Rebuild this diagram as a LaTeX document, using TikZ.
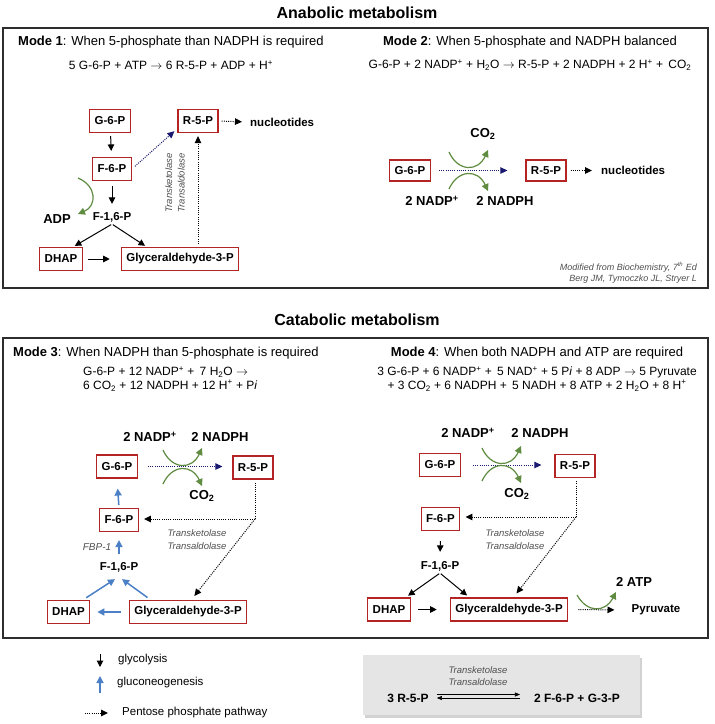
\documentclass[tikz,border=0pt]{standalone}
\usepackage{fontspec}
\setmainfont{Liberation Sans}
\usetikzlibrary{arrows.meta,calc,shadows}
\definecolor{boxred}{RGB}{180,36,36}
\definecolor{navyc}{RGB}{25,25,112}
\definecolor{leaf}{RGB}{95,140,65}
\definecolor{gblue}{RGB}{75,128,198}
\definecolor{enzc}{RGB}{80,80,80}
\definecolor{panel}{RGB}{229,229,229}
\definecolor{framec}{RGB}{45,45,45}
\newcommand{\myfs}[2]{\fontsize{#1}{#2}\selectfont}
\newcommand{\rarr}{$\rightarrow$}
\tikzset{
 mbox/.style={draw=boxred, line width=1.2pt, fill=white, font=\myfs{11.5}{13}\bfseries, inner xsep=5pt, inner ysep=0pt, minimum height=23pt},
 lbl/.style={font=\myfs{11.5}{13}\bfseries, inner sep=2pt},
 biglbl/.style={font=\myfs{13}{15}\bfseries, inner sep=2pt},
 enz/.style={font=\myfs{9.5}{12.5}\itshape, text=enzc, align=center, inner sep=1pt},
 eqn/.style={font=\myfs{12}{13.5}, inner sep=1pt},
 mtitle/.style={font=\myfs{13}{15}, inner sep=1pt},
 legtxt/.style={font=\myfs{11.5}{13}, inner sep=1pt, anchor=west},
 blk/.style={line width=1pt, -{Triangle[length=6.5pt,width=6.5pt]}},
 ppp/.style={dash pattern=on 1pt off 1.2pt, line width=1pt, -{Triangle[length=7pt,width=6.5pt]}},
 pppline/.style={dash pattern=on 1pt off 1.2pt, line width=1pt},
 pppnavy/.style={ppp, draw=navyc, color=navyc},
 grn/.style={draw=leaf, color=leaf, line width=1.2pt, -{Triangle[length=7pt,width=7pt]}},
 blu/.style={draw=gblue, color=gblue, line width=1.5pt, -{Triangle[length=7pt,width=7pt]}},
 frame/.style={draw=framec, line width=1.6pt},
}
\begin{document}
\begin{tikzpicture}[x=1pt,y=-1pt]
\useasboundingbox (0,0) rectangle (715,724);
\fill[white] (0,0) rectangle (715,724);

% ================= ANABOLIC =================
\node[font=\myfs{16}{18}\bfseries] (tana) at (357,13) {Anabolic metabolism};
\draw[frame] (3,28) rectangle (708,288);

% Mode 1
\node[mtitle, anchor=west] (m1t) at (17,42) {\textbf{Mode 1}: When 5-phosphate than NADPH is required};
\node[eqn] (m1e) at (171,65) {5 G-6-P + ATP \rarr{} 6 R-5-P + ADP + H\textsuperscript{+}};
\node[mbox] (m1g6p) at (110,121) {G-6-P};
\node[mbox] (m1r5p) at (198,121) {R-5-P};
\node[lbl, anchor=west] (m1nuc) at (248,122) {nucleotides};
\node[mbox] (m1f6p) at (112,169) {F-6-P};
\node[lbl] (m1f16) at (112,217) {F-1,6-P};
\node[biglbl] (m1adp) at (57,219) {ADP};
\node[mbox] (m1dhap) at (61,259) {DHAP};
\node[mbox] (m1gly) at (180,259) {Glyceraldehyde-3-P};
\node[enz, rotate=90] (m1enz) at (175,183) {Transketolase\\Transaldolase};

\draw[blk, shorten <=3pt, shorten >=6pt] (m1g6p) -- (m1f6p);
\draw[blk, shorten <=5pt, shorten >=6pt] (m1f6p) -- (m1f16);
\draw[blk, shorten <=1pt, shorten >=2pt] (m1f16.south) -- (m1dhap.45);
\draw[blk, shorten <=1pt, shorten >=2pt] (m1f16.south) -- (m1gly.160);
\draw[blk, shorten <=5pt, shorten >=11pt] (m1dhap.east) -- (m1gly.west);
\draw[ppp, shorten <=3pt, shorten >=3pt] (m1gly.north -| m1r5p) -- (m1r5p.south);
\draw[pppnavy, shorten <=4pt, shorten >=4pt] (m1f6p.east) -- (m1r5p.200);
\draw[ppp, shorten <=3pt, shorten >=6pt] (m1r5p.east) -- (m1nuc.west);
\draw[grn] (78,178) .. controls (97,186) and (97,206) .. (78,214);

% Mode 2
\node[mtitle] (m2t) at (530,42) {\textbf{Mode 2}: When 5-phosphate and NADPH balanced};
\node[eqn] (m2e) at (530,65) {G-6-P + 2 NADP\textsuperscript{+} + H\textsubscript{2}O \rarr{} R-5-P + 2 NADPH + 2 H\textsuperscript{+} +\, CO\textsubscript{2}};
\node[biglbl] (m2co2) at (483,134) {CO\textsubscript{2}};
\node[mbox, minimum height=21pt] (m2g6p) at (410,170.5) {G-6-P};
\node[mbox, minimum height=21pt] (m2r5p) at (546,170.5) {R-5-P};
\node[lbl, anchor=west] (m2nuc) at (599,170.5) {nucleotides};
\node[biglbl] (m2nadp) at (432,201) {2 NADP\textsuperscript{+}};
\node[biglbl] (m2nadph) at (505,201) {2 NADPH};
\draw[pppnavy, shorten <=8pt, shorten >=18pt] (m2g6p.east) -- (m2r5p.west);
\draw[ppp, shorten <=4pt, shorten >=7pt] (m2r5p.east) -- (m2nuc.west);
\draw[grn] (449,152) .. controls (458,172) and (478,172) .. (488,150);
\draw[grn] (449,189) .. controls (458,169) and (478,169) .. (488,191);
\node[font=\myfs{9}{11}\itshape, text=enzc, align=right, anchor=east, inner sep=0pt] (cred) at (697,272.5) {Modified from Biochemistry, 7\textsuperscript{th} Ed\\Berg JM, Tymoczko JL, Stryer L};

% ================= CATABOLIC =================
\node[font=\myfs{16}{18}\bfseries] (tcat) at (357,320) {Catabolic metabolism};
\draw[frame] (3,338) rectangle (708,638);

% Mode 3
\node[mtitle, anchor=west] (m3t) at (12,353) {\textbf{Mode 3}: When NADPH than 5-phosphate is required};
\node[eqn, align=left, anchor=west] (m3e) at (82,379) {G-6-P + 12 NADP\textsuperscript{+} +\, 7 H\textsubscript{2}O \rarr\\6 CO\textsubscript{2} + 12 NADPH + 12 H\textsuperscript{+} + P\textit{i}};
\node[biglbl] (m3nadp) at (150,437) {2 NADP\textsuperscript{+}};
\node[biglbl] (m3nadph) at (220,437) {2 NADPH};
\node[mbox] (m3g6p) at (117,466.5) {G-6-P};
\node[mbox] (m3r5p) at (253,467.5) {R-5-P};
\node[biglbl] (m3co2) at (202,496) {CO\textsubscript{2}};
\node[mbox] (m3f6p) at (119,520) {F-6-P};
\node[enz] (m3enz) at (197,539.5) {Transketolase\\Transaldolase};
\node[font=\myfs{10}{12}\itshape, text=enzc, inner sep=1pt] (m3fbp) at (97,547) {FBP-1};
\node[lbl] (m3f16) at (119,567) {F-1,6-P};
\node[mbox] (m3dhap) at (68.5,612) {DHAP};
\node[mbox] (m3gly) at (188,612) {Glyceraldehyde-3-P};
\coordinate (m3c) at (255,519);

\draw[pppnavy, shorten <=10pt, shorten >=10pt] (m3g6p.east) -- (m3g6p.east -| m3r5p.west);
\draw[grn] (163,450) .. controls (172,470) and (192,470) .. (202,448);
\draw[grn] (163,484) .. controls (172,464) and (192,464) .. (202,486);
\draw[pppline, shorten <=3pt] (m3r5p.south -| m3c) -- (m3c);
\draw[ppp, shorten >=5pt] (m3c) -- (m3c -| m3f6p.east);
\draw[ppp, shorten >=5pt] (m3c) -- (m3gly.75);
\draw[blu, shorten <=3pt, shorten >=10pt] (m3f6p.north) -- (m3g6p.south);
\draw[blu, shorten <=6pt, shorten >=8pt] (m3f16.north) -- (m3f6p.south);
\draw[blu, shorten <=4pt] (m3dhap.40) -- ([xshift=-4pt,yshift=-5pt]m3f16.south);
\draw[blu, shorten <=4pt] (m3gly.162) -- ([xshift=3pt,yshift=-5pt]m3f16.south);
\draw[blu, shorten <=8pt, shorten >=7pt] (m3gly.west) -- (m3dhap.east);

% Mode 4
\node[mtitle] (m4t) at (537,353) {\textbf{Mode 4}: When both NADPH and ATP are required};
\node[eqn, align=center] (m4e) at (537,379) {3 G-6-P + 6 NADP\textsuperscript{+} +\, 5 NAD\textsuperscript{+} + 5 P\textit{i} + 8 ADP \rarr{} 5 Pyruvate\\+ 3 CO\textsubscript{2} + 6 NADPH +\, 5 NADH + 8 ATP + 2 H\textsubscript{2}O + 8 H\textsuperscript{+}};
\node[biglbl] (m4nadp) at (468,433) {2 NADP\textsuperscript{+}};
\node[biglbl] (m4nadph) at (540,433) {2 NADPH};
\node[mbox] (m4g6p) at (440,465) {G-6-P};
\node[mbox] (m4r5p) at (575,466) {R-5-P};
\node[biglbl] (m4co2) at (517,494) {CO\textsubscript{2}};
\node[mbox] (m4f6p) at (440.5,519) {F-6-P};
\node[enz] (m4enz) at (515,539.5) {Transketolase\\Transaldolase};
\node[lbl] (m4f16) at (440,566) {F-1,6-P};
\node[mbox] (m4dhap) at (389,609.5) {DHAP};
\node[mbox] (m4gly) at (509,609.5) {Glyceraldehyde-3-P};
\node[lbl] (m4pyr) at (656,610) {Pyruvate};
\node[biglbl] (m4atp) at (634,582) {2 ATP};
\coordinate (m4c) at (576,517);

\draw[pppnavy, shorten <=12pt, shorten >=13pt] (m4g6p.east) -- (m4g6p.east -| m4r5p.west);
\draw[grn] (482,448) .. controls (491,468) and (511,468) .. (521,446);
\draw[grn] (482,481) .. controls (491,461) and (511,461) .. (521,483);
\draw[pppline, shorten <=3pt] (m4r5p.south -| m4c) -- (m4c);
\draw[ppp, shorten >=5pt] (m4c) -- (m4c -| m4f6p.east);
\draw[ppp, shorten >=5pt] (m4c) -- (m4gly.70);
\draw[blk, shorten <=10pt, shorten >=7pt] (m4f6p.south) -- (m4f16.north);
\draw[blk, shorten <=1pt, shorten >=3pt] (m4f16.south) -- (m4dhap.36);
\draw[blk, shorten <=1pt, shorten >=3pt] (m4f16.south) -- (m4gly.163);
\draw[blk, shorten <=7pt, shorten >=13pt] (m4dhap.east) -- (m4gly.west);
\draw[ppp, shorten <=10pt, shorten >=15pt] (m4gly.east) -- (m4pyr.west);
\draw[grn] (577,595) .. controls (587,613) and (605,613) .. (616,592);

% ================= LEGEND =================
\coordinate (lg1a) at (100,654);
\coordinate (lg1b) at (100,667);
\draw[blk] (lg1a) -- (lg1b);
\node[legtxt] (lg1t) at (117,660) {glycolysis};
\coordinate (lg2a) at (100,693);
\coordinate (lg2b) at (100,676);
\draw[blu] (lg2a) -- (lg2b);
\node[legtxt] (lg2t) at (116,683) {gluconeogenesis};
\coordinate (lg3a) at (85,713);
\coordinate (lg3b) at (108,713);
\draw[ppp] (lg3a) -- (lg3b);
\node[legtxt] (lg3t) at (121,713) {Pentose phosphate pathway};

% ================= PANEL =================
\node[fill=panel, minimum width=277pt, minimum height=60pt, inner sep=0pt,
      drop shadow={shadow xshift=2pt, shadow yshift=-2.5pt, opacity=0.35}] (pan) at (501.5,685) {};
\node[enz] (panenz) at (478,676) {Transketolase\\Transaldolase};
\node[font=\myfs{12}{14}\bfseries, inner sep=2pt] (panl) at (408,698) {3 R-5-P};
\node[font=\myfs{12}{14}\bfseries, inner sep=2pt] (panr) at (577,698) {2 F-6-P + G-3-P};
\draw[line width=0.6pt, -{Triangle[length=5pt,width=4pt]}, shorten <=6pt, shorten >=12pt] ([yshift=3.5pt]panl.east) -- ([yshift=3.5pt]panl.east -| panr.west);
\draw[line width=0.6pt, -{Triangle[length=5pt,width=4pt]}, shorten <=12pt, shorten >=6pt] ([yshift=0pt]panl.east -| panr.west) -- ([yshift=0pt]panl.east);
\end{tikzpicture}
\end{document}
